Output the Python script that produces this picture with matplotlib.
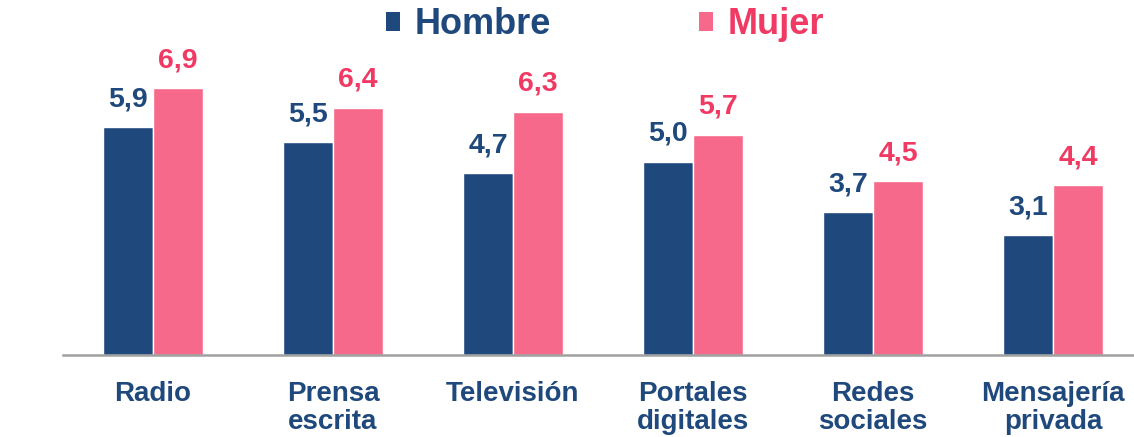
import matplotlib
matplotlib.use("Agg")
import matplotlib.pyplot as plt
import numpy as np

categories = ["Radio", "Prensa\nescrita", "Televisión", "Portales\ndigitales", "Redes\nsociales", "Mensajería\nprivada"]
hombre = [5.9, 5.5, 4.7, 5.0, 3.7, 3.1]
mujer = [6.9, 6.4, 6.3, 5.7, 4.5, 4.4]
series_names = ["Hombre", "Mujer"]

navy = "#1F497D"
pink_bar = "#F7698A"
pink_txt = "#F03A64"

plt.rcParams['font.family'] = ['Liberation Sans', 'DejaVu Sans']
fig = plt.figure(figsize=(11.34, 4.37), dpi=100)
ax = fig.add_axes([63/1134, 82/437, 1 - 63/1134, 355/437])

x = np.arange(len(categories))
w = 50/180
b1 = ax.bar(x - w/2, hombre, w, color=navy, edgecolor="white", linewidth=1, label=series_names[0])
b2 = ax.bar(x + w/2, mujer, w, color=pink_bar, edgecolor="white", linewidth=1, label=series_names[1])

for bars, vals, col in [(b1, hombre, navy), (b2, mujer, pink_txt)]:
    for r, v in zip(bars, vals):
        ax.annotate(f"{v:.1f}".replace(".", ","), (r.get_x() + r.get_width()/2, v),
                    xytext=(0, 20), textcoords="offset points", ha="center", va="center",
                    fontsize=20.5, fontweight="bold", color=col)

ax.set_xlim(-0.5, -0.5 + 1071/180)
ax.set_ylim(0, 355/38.65)
ax.set_yticks([])
for s in ["top", "right", "left"]:
    ax.spines[s].set_visible(False)
ax.spines["bottom"].set_color("#A0A0A0")
ax.spines["bottom"].set_linewidth(1.8)
ax.set_xticks(x)
ax.set_xticklabels(categories, fontsize=20, fontweight="bold", color=navy, linespacing=1.08, va="top")
ax.tick_params(axis="x", length=0, pad=19)

leg = fig.legend(handles=[b1, b2], labels=series_names, ncol=2, loc="center",
                 bbox_to_anchor=(0.5335, 0.943), frameon=False,
                 prop={"size": 26, "weight": "bold"}, handlelength=0.4, handleheight=0.4,
                 handletextpad=0.4, columnspacing=4.1)
for t, c in zip(leg.get_texts(), [navy, pink_txt]):
    t.set_color(c)
for h in leg.legend_handles:
    h.set_edgecolor("none")

fig.savefig("out.png", dpi=100)
